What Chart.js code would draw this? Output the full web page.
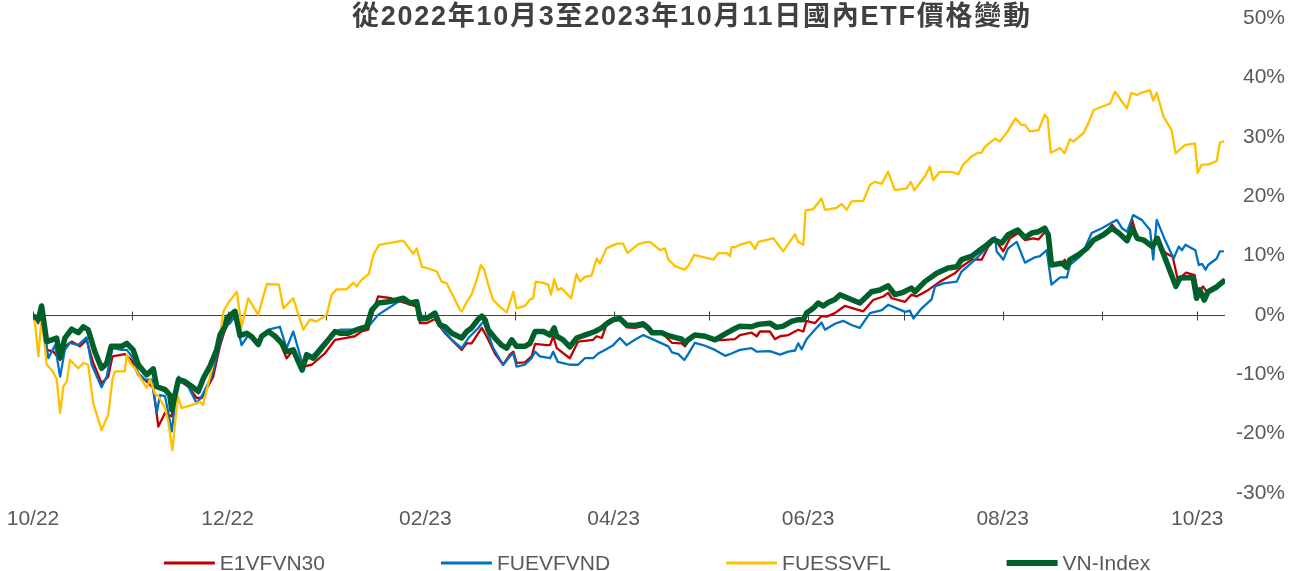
<!DOCTYPE html>
<html><head><meta charset="utf-8">
<script src="https://cdn.jsdelivr.net/npm/chart.js@4.4.0/dist/chart.umd.min.js"></script>
<style>html,body{margin:0;padding:0;background:#fff;overflow:hidden}</style>
</head><body>
<canvas id="c" width="1296" height="571"></canvas>
<script>
// ---- data (x = days since 2022-10-01, y = % change) ----
const titleText = '從2022年10月3至2023年10月11日國內ETF價格變動';
const seriesNames = ['E1VFVN30', 'FUEVFVND', 'FUESSVFL', 'VN-Index'];
const seriesColors = ['#C00000', '#0070C0', '#FFC000', '#00602B'];
const monthStartDays = [0, 31, 61, 92, 123, 151, 182, 212, 243, 273, 304, 335, 365];
const tickDays = [0, 61, 123, 182, 243, 304, 365];
const tickLabels = ['10/22', '12/22', '02/23', '04/23', '06/23', '08/23', '10/23'];

const e1Days = [0.4,1.6,2.7,4.3,6.4,8.5,10.0,12.1,14.7,16.8,18.9,21.5,23.6,24.9,28.8,30.9,33.0,35.6,37.7,39.3,41.4,43.5,45.4,48.7,51.3,52.9,56.5,58.6,60.2,61.8,63.3,64.9,67.0,70.6,71.7,73.8,76.8,79.5,81.6,83.2,84.7,87.4,91.5,94.7,97.8,100.9,103.0,105.1,106.2,108.2,112.4,115.6,120.3,121.3,123.4,126.0,127.6,129.2,131.8,134.4,136.0,137.5,140.7,142.2,144.8,147.4,149.5,150.6,151.6,154.2,156.3,157.4,161.0,162.1,163.1,164.2,168.3,170.9,175.6,176.7,178.3,179.8,181.9,184.0,186.1,188.7,191.3,193.4,197.1,200.3,203.4,204.4,205.4,207.5,210.7,213.8,217.0,220.1,221.6,225.3,226.9,227.9,231.0,232.6,234.2,236.8,239.9,241.5,242.5,245.1,247.2,248.8,251.4,252.4,254.5,257.1,260.3,263.4,266.6,268.1,269.2,273.4,275.4,277.0,280.7,284.3,289.0,291.1,294.3,297.4,299.5,301.6,304.2,306.3,308.9,311.0,313.6,315.2,317.8,319.3,322.5,323.5,324.6,325.6,330.4,332.5,335.6,338.3,340.4,343.0,344.6,346.2,348.2,350.9,352.5,355.1,357.3,358.9,361.5,364.2,365.2,366.8,367.9,369.5,371.6,373.2];
const e1Vals = [-0.3,-1.4,1.3,-5.9,-6.2,-7.6,-5.3,-4.5,-5.3,-4.2,-8.1,-11.5,-10.4,-7.0,-6.6,-7.6,-10.1,-11.2,-12.3,-18.8,-16.5,-17.1,-10.9,-12.1,-14.0,-14.0,-10.4,-5.3,-2.5,-0.8,0.6,-3.6,-3.3,-5.0,-3.9,-2.8,-3.9,-7.3,-6.0,-7.9,-8.7,-8.4,-6.5,-4.2,-3.9,-3.6,-2.8,-2.5,-0.2,3.1,2.8,2.2,1.4,-1.4,-1.4,-0.7,-2.0,-3.1,-4.5,-5.9,-4.8,-4.8,-2.2,-3.6,-6.5,-8.4,-6.7,-6.2,-8.1,-8.0,-7.0,-4.9,-5.1,-5.1,-3.6,-5.6,-7.3,-4.5,-4.2,-3.6,-3.9,-1.7,-1.1,-0.7,-2.1,-2.2,-1.9,-2.8,-3.0,-4.7,-4.8,-5.3,-4.5,-3.6,-3.7,-4.3,-4.2,-4.1,-3.4,-3.0,-3.6,-2.8,-2.8,-4.1,-3.6,-3.4,-2.5,-2.8,-1.0,-1.4,-0.2,-0.3,0.3,0.7,1.5,1.1,0.6,2.5,3.1,3.7,2.8,2.2,3.4,3.1,4.2,5.6,7.0,8.1,9.3,9.3,11.5,12.7,10.7,12.9,13.8,12.6,12.9,12.7,14.3,8.4,8.7,9.3,8.0,9.3,11.2,12.6,13.5,15.2,13.8,12.5,16.0,12.9,12.6,11.5,12.3,10.4,9.8,5.9,7.1,6.7,3.7,4.8,3.9,4.5,5.1,6.0];

const fuevDays = [0.4,1.7,2.7,4.8,6.9,8.5,10.0,11.6,14.2,16.8,18.4,21.5,23.1,24.9,27.8,29.4,31.4,33.0,35.1,37.2,38.8,39.8,41.4,43.5,45.6,48.7,51.3,52.9,56.0,58.6,60.2,61.8,63.3,65.4,67.5,70.6,73.8,77.4,79.5,81.6,84.4,87.9,91.5,94.7,96.2,102.0,105.1,108.2,114.5,116.6,120.3,121.9,123.4,126.0,128.1,131.3,134.4,136.5,139.6,141.2,142.2,144.3,147.4,149.5,150.6,151.6,154.2,156.3,157.4,158.9,162.1,163.1,164.5,168.3,170.9,173.0,175.6,177.2,179.3,181.9,184.0,186.1,188.7,191.3,197.1,199.2,200.3,202.3,204.2,205.4,207.5,210.7,213.8,217.0,219.0,221.6,225.3,226.9,231.0,234.2,236.8,238.9,239.9,241.0,242.5,245.1,247.2,248.3,251.4,254.0,256.6,259.2,262.4,266.1,268.1,270.8,273.4,274.9,276.0,278.6,281.7,282.8,285.4,289.6,291.1,294.3,296.3,298.4,301.6,302.1,304.2,305.7,308.4,311.0,314.1,315.7,317.8,319.3,322.0,324.1,325.1,328.8,331.9,335.1,337.7,339.8,341.4,343.0,344.9,347.6,350.2,351.2,352.3,354.9,357.6,359.2,360.2,361.3,364.4,365.5,366.5,367.6,368.4,371.1,372.1,373.1];
const fuevVals = [-0.3,-1.2,1.2,-7.3,-5.1,-10.4,-5.9,-4.7,-5.1,-3.8,-8.4,-12.2,-10.4,-5.6,-5.9,-5.9,-7.3,-9.8,-10.9,-10.9,-16.5,-13.5,-13.7,-19.6,-10.4,-12.1,-14.9,-13.7,-10.4,-4.8,-2.0,-1.4,-0.2,-5.1,-3.4,-4.5,-2.5,-2.0,-5.6,-2.8,-8.1,-6.7,-4.5,-2.8,-2.5,-2.5,-2.0,0.0,2.2,2.5,1.8,-0.2,-0.8,-0.2,-2.2,-4.2,-5.6,-3.9,-2.2,-1.1,-2.5,-5.6,-8.4,-7.0,-6.5,-8.7,-8.4,-7.3,-6.2,-7.0,-7.3,-6.2,-7.9,-8.4,-8.4,-7.3,-7.3,-6.5,-5.9,-5.1,-3.9,-5.1,-4.2,-3.4,-4.8,-5.3,-6.3,-6.6,-7.6,-6.6,-4.7,-5.2,-5.9,-6.9,-6.5,-5.9,-5.6,-6.2,-6.1,-6.7,-6.2,-6.0,-4.8,-5.8,-4.1,-2.5,-1.3,-2.5,-1.5,-1.0,-1.7,-2.2,0.3,0.8,1.7,1.1,0.5,0.7,-0.6,1.1,2.6,4.8,5.3,5.6,7.3,8.8,9.8,11.0,13.1,10.7,9.3,11.2,12.3,8.8,9.7,9.9,10.9,5.1,6.3,6.3,8.4,10.1,13.8,14.6,15.4,16.0,14.6,14.0,16.8,16.0,14.3,9.3,16.0,12.6,9.5,11.5,10.9,11.8,10.9,8.4,8.6,7.6,8.4,9.5,10.7,10.7];

const fuesDays = [0.4,1.7,2.7,4.3,5.9,7.4,8.5,9.5,10.6,11.6,14.2,15.8,17.3,18.9,21.5,23.6,24.9,25.7,28.8,29.4,30.4,32.0,33.5,35.6,36.7,38.2,39.3,41.4,42.4,43.7,45.4,46.6,49.7,52.4,53.3,56.0,58.6,59.7,61.2,63.9,65.4,67.5,70.6,73.3,77.1,78.5,81.6,84.7,86.8,88.9,92.1,93.6,95.2,98.3,100.4,101.5,103.0,105.3,106.7,108.5,116.1,119.2,120.3,121.9,123.4,126.6,128.1,129.7,131.8,133.9,134.5,136.0,137.5,139.1,140.4,141.5,142.7,144.3,146.4,148.5,150.6,151.6,154.2,155.8,156.8,157.6,160.0,161.5,162.4,163.4,164.5,165.7,168.7,170.4,171.5,173.0,175.1,176.7,177.7,179.8,183.0,185.0,186.4,189.8,191.9,193.4,196.6,198.1,199.2,201.3,204.2,205.4,207.3,213.3,214.9,217.5,218.5,219.0,220.1,221.6,224.8,226.4,227.4,232.1,235.2,238.9,239.9,241.5,242.2,244.6,247.2,248.3,251.9,253.5,255.1,256.6,260.3,262.4,263.9,266.1,268.1,270.2,273.9,275.2,276.3,279.6,281.2,282.2,284.3,288.0,290.1,291.6,294.3,296.3,297.4,298.4,301.6,303.1,305.3,308.0,309.9,311.0,312.5,315.2,317.2,318.1,319.1,322.0,323.4,325.1,326.2,329.3,330.9,332.5,337.7,339.2,341.4,343.0,344.3,346.2,347.2,350.2,351.2,352.3,354.4,357.0,358.2,361.1,364.3,365.1,366.4,368.4,371.1,372.1,373.1];
const fuesVals = [-0.3,-7.0,-0.3,-8.4,-9.3,-10.7,-16.5,-12.1,-11.2,-7.6,-9.0,-8.1,-8.4,-14.9,-19.4,-16.8,-10.9,-9.5,-9.5,-6.7,-8.1,-9.0,-10.4,-12.3,-10.9,-13.2,-13.7,-15.7,-18.0,-22.8,-13.7,-15.7,-15.2,-14.6,-15.2,-9.3,-3.6,0.6,2.0,3.9,-2.0,2.8,0.0,5.2,5.1,1.1,2.8,-2.5,-0.8,-1.1,0.0,3.4,4.3,4.3,5.4,4.8,5.9,6.9,10.1,11.8,12.5,10.3,11.2,8.1,7.9,7.3,5.6,5.3,3.1,0.8,0.6,2.2,3.4,5.9,8.4,7.6,5.1,2.5,1.4,0.4,3.9,1.1,1.5,2.6,2.8,5.6,5.4,5.1,3.4,6.0,4.2,4.5,2.8,6.9,5.6,6.4,6.6,9.5,8.7,11.2,12.0,12.0,10.4,11.9,12.2,12.3,10.9,11.2,9.3,8.2,7.6,8.2,10.1,9.3,10.4,10.4,9.9,11.4,11.4,11.8,12.3,11.1,12.3,12.9,10.7,13.6,12.3,11.8,17.6,17.8,19.6,17.7,18.0,18.7,17.7,19.1,19.2,21.9,22.4,22.1,24.1,21.0,21.3,22.4,21.0,23.3,25.0,22.7,24.1,24.1,23.7,25.3,26.7,27.3,27.3,28.3,29.7,29.2,30.7,33.1,32.0,32.0,30.9,31.1,33.7,33.1,27.3,28.1,27.2,29.6,29.2,30.6,32.3,34.5,35.6,37.6,35.9,34.8,37.4,37.0,37.4,37.8,36.1,37.4,33.4,31.1,27.2,28.6,28.9,23.9,25.3,25.3,25.9,29.0,29.2];

const vnDays = [0.4,1.7,2.7,4.3,5.9,7.4,8.5,10.0,12.1,14.2,15.8,17.3,19.4,21.5,23.1,24.5,27.8,29.4,31.4,33.0,35.6,37.7,38.8,41.4,42.9,43.5,45.6,47.6,49.7,51.8,53.4,55.5,57.6,58.6,60.2,60.8,63.3,64.9,67.0,68.6,70.6,71.7,73.8,75.9,78.0,79.5,81.6,83.2,84.4,85.8,87.9,90.0,92.6,94.7,96.2,98.8,101.5,104.6,106.2,108.2,111.4,114.0,116.1,118.2,120.3,121.3,123.4,126.0,127.6,129.2,131.3,134.4,136.0,137.5,139.6,140.7,141.7,142.7,144.8,146.9,148.5,150.1,151.6,154.2,155.8,157.4,160.0,162.1,163.4,164.2,166.2,168.3,170.4,173.0,176.2,178.3,180.3,181.9,184.0,186.1,188.7,191.3,192.9,194.0,197.1,199.2,201.3,203.4,204.4,205.4,207.5,210.7,213.8,217.0,219.0,221.6,225.3,227.4,231.0,233.1,235.2,237.8,239.9,241.5,242.5,244.6,246.2,247.7,249.3,251.4,253.0,255.6,259.2,262.9,265.5,268.1,270.2,272.8,275.4,276.5,279.6,283.3,286.9,289.6,291.1,294.3,296.3,298.4,301.0,303.7,305.7,308.7,311.0,313.1,315.2,317.2,318.3,319.3,322.5,324.1,325.1,327.7,330.4,332.5,335.6,338.3,340.4,343.0,344.6,346.2,348.2,350.9,352.5,355.1,358.3,359.6,363.7,364.8,365.8,367.2,368.4,371.1,373.1];
const vnVals = [-0.3,-0.7,1.5,-4.5,-4.2,-3.9,-7.2,-3.9,-2.4,-3.0,-2.0,-2.5,-6.2,-9.0,-8.2,-5.3,-5.3,-4.8,-5.9,-8.4,-10.1,-9.1,-12.1,-12.6,-13.5,-16.0,-10.9,-11.2,-12.0,-12.9,-10.7,-8.6,-5.9,-3.4,-2.0,-0.5,0.6,-3.5,-3.1,-3.7,-5.0,-3.6,-2.8,-3.6,-4.8,-6.2,-5.9,-7.9,-9.3,-6.7,-7.3,-5.9,-4.2,-2.8,-3.1,-3.1,-2.5,-2.0,0.8,2.0,2.2,2.5,2.8,2.0,2.2,-0.7,-0.6,0.3,-1.7,-2.0,-3.1,-3.9,-2.8,-2.2,-0.7,-0.2,-0.8,-2.5,-3.9,-5.1,-5.6,-4.2,-5.3,-5.3,-4.8,-2.8,-2.8,-3.4,-2.2,-3.6,-4.2,-5.4,-3.9,-3.4,-2.8,-2.2,-1.3,-0.8,-0.6,-1.7,-1.8,-1.5,-2.2,-3.0,-3.0,-3.5,-3.8,-4.1,-4.7,-4.2,-3.4,-3.6,-4.2,-3.2,-2.6,-1.9,-2.0,-1.6,-1.4,-2.1,-1.9,-1.1,-0.8,-0.8,0.3,1.1,2.0,1.5,2.1,2.6,3.4,2.8,2.0,3.9,4.2,4.9,3.4,3.8,4.5,3.9,5.6,7.0,7.9,8.1,9.3,9.9,10.7,11.5,12.7,12.1,13.5,14.3,13.0,13.8,14.0,14.6,13.5,8.4,8.7,8.0,9.3,10.1,11.2,12.6,13.5,14.6,13.8,12.5,14.6,12.9,12.6,11.5,12.9,9.3,4.8,6.2,6.3,2.8,4.2,2.5,3.9,4.7,5.6];

const seriesDays = [e1Days, fuevDays, fuesDays, vnDays];
const seriesVals = [e1Vals, fuevVals, fuesVals, vnVals];
const seriesWidths = [2.3, 2.3, 2.3, 5.5];

const FONT = '"Liberation Sans", Arial, sans-serif';
const GREY = '#595959';

const decoPlugin = {
  id: 'deco',
  beforeDatasetsDraw(chart) {
    const {ctx, chartArea, scales} = chart;
    const y0 = Math.round(scales.y.getPixelForValue(0)) + 0.5;
    ctx.save();
    ctx.strokeStyle = '#404040';
    ctx.lineWidth = 1;
    ctx.beginPath();
    ctx.moveTo(chartArea.left, y0);
    ctx.lineTo(chartArea.right, y0);
    monthStartDays.forEach(d => {
      const x = Math.round(scales.x.getPixelForValue(d)) + 0.5;
      ctx.moveTo(x, y0 - 4);
      ctx.lineTo(x, y0 + 5);
    });
    ctx.stroke();
    ctx.restore();
  },
  afterDraw(chart) {
    const {ctx} = chart;
    ctx.save();
    // title
    ctx.fillStyle = '#404040';
    ctx.font = 'bold 27px "Liberation Sans", "Noto Sans CJK TC", sans-serif';
    ctx.textAlign = 'center';
    ctx.textBaseline = 'middle';
    const nChars = [...titleText].length;
    const w0 = ctx.measureText(titleText).width;
    const sp = Math.max(0, (678 - w0) / (nChars - 1));
    ctx.letterSpacing = sp.toFixed(2) + 'px';
    ctx.fillText(titleText, 691 + sp / 2, 18);
    ctx.letterSpacing = '0px';
    // legend
    ctx.font = '21px ' + FONT;
    ctx.textAlign = 'left';
    const sample = 51, gapTxt = 5, gapItem = 116;
    const widths = seriesNames.map(n => sample + gapTxt + ctx.measureText(n).width);
    const total = widths.reduce((a, b) => a + b, 0) + gapItem * (seriesNames.length - 1);
    let x = 657 - total / 2;
    const ly = 563;
    seriesNames.forEach((n, i) => {
      ctx.strokeStyle = seriesColors[i];
      ctx.lineWidth = i === 3 ? 6 : 3;
      ctx.beginPath();
      ctx.moveTo(x, ly);
      ctx.lineTo(x + sample, ly);
      ctx.stroke();
      ctx.fillStyle = GREY;
      ctx.fillText(n, x + sample + gapTxt, ly + 1);
      x += widths[i] + gapItem;
    });
    ctx.restore();
  }
};

new Chart(document.getElementById('c'), {
  type: 'line',
  data: {
    datasets: seriesNames.map((n, i) => ({
      label: n,
      data: seriesDays[i].map((d, k) => ({x: d, y: seriesVals[i][k]})),
      borderColor: seriesColors[i],
      backgroundColor: seriesColors[i],
      borderWidth: seriesWidths[i],
      pointRadius: 0,
      tension: 0,
      borderJoinStyle: 'round',
      borderCapStyle: 'round',
      fill: false,
      order: 4 - i
    }))
  },
  options: {
    responsive: false,
    animation: false,
    devicePixelRatio: 1,
    layout: {padding: {top: 18, right: 11, left: 33, bottom: 0}},
    plugins: {legend: {display: false}, tooltip: {enabled: false}, title: {display: false}},
    scales: {
      x: {
        type: 'linear', min: 0, max: 373.7,
        grid: {display: false}, border: {display: false},
        afterBuildTicks: s => { s.ticks = tickDays.map(v => ({value: v})); },
        afterFit: s => { s.height = 78; },
        ticks: {
          autoSkip: false, maxRotation: 0, padding: 6,
          color: GREY, font: {family: FONT, size: 21},
          callback: v => { const k = tickDays.indexOf(v); return k >= 0 ? tickLabels[k] : ''; }
        }
      },
      y: {
        position: 'right', min: -30, max: 50,
        grid: {display: false}, border: {display: false},
        afterFit: s => { s.width = 60; },
        ticks: {
          stepSize: 10, crossAlign: 'far', padding: 0,
          color: GREY, font: {family: FONT, size: 21},
          callback: v => v + '%'
        }
      }
    }
  },
  plugins: [decoPlugin]
});
</script>
</body></html>
